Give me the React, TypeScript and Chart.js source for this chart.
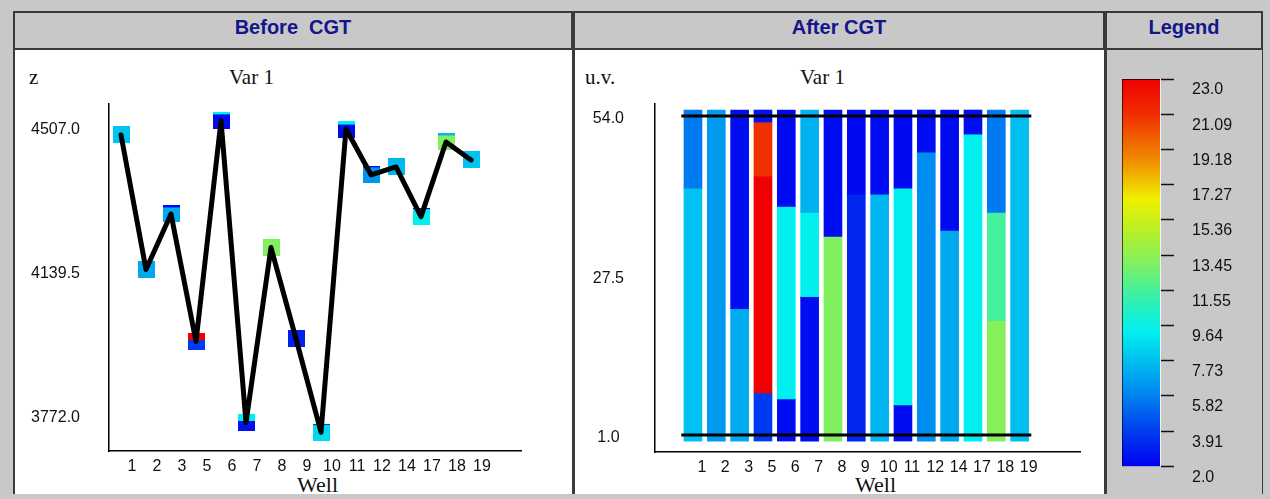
import React, { useEffect, useRef } from 'react';
import { Chart, registerables } from 'chart.js';

Chart.register(...registerables);

// ---- data ----
const wells = ['1', '2', '3', '5', '6', '7', '8', '9', '10', '11', '12', '14', '17', '18', '19'];

// Before CGT: depth (z) of the Var 1 sample in each well
const beforeZ = [4489, 4145, 4287, 3961, 4525, 3754, 4201, 3968, 3729, 4504, 4387, 4407, 4280, 4471, 4425];
// Var 1 of each sample, and of the thin layer capping it (null = no cap)
const beforeVar = [7.9, 7.0, 7.1, 3.8, 2.3, 2.5, 13.0, 3.0, 8.6, 2.3, 6.4, 7.5, 9.3, 13.0, 7.8];
const beforeCapVar = [null, null, 2.3, 23.0, 9.3, 9.3, null, null, 2.3, 9.3, 2.3, null, 2.3, 7.5, null];
const zTicks = [3772.0, 4139.5, 4507.0];

// After CGT: layer boundaries per well in u.v. (top to bottom) and Var 1 of each layer
const afterBounds = [
  [55, 42, 0],
  [55, 0],
  [55, 22, 0],
  [55, 53, 44, 8, 0],
  [55, 39, 7, 0],
  [55, 38, 24, 0],
  [55, 34, 0],
  [55, 41, 0],
  [55, 41, 0],
  [55, 42, 6, 0],
  [55, 48, 0],
  [55, 35, 0],
  [55, 51, 0],
  [55, 38, 20, 0],
  [55, 0],
];
const afterVar = [
  [5.6, 7.8],
  [6.6],
  [2.4, 7.1],
  [2.6, 21.0, 23.0, 3.8],
  [2.3, 9.3, 2.4],
  [7.3, 9.3, 2.4],
  [2.4, 13.0],
  [2.3, 3.2],
  [2.4, 7.4],
  [2.3, 9.3, 2.4],
  [2.4, 6.2],
  [2.3, 7.0],
  [2.4, 9.3],
  [5.6, 11.5, 13.2],
  [7.7],
];
const uvLevels = [54, 1];
const uvTicks = [1.0, 27.5, 54.0];

// Legend colour scale
const varMin = 2.0;
const varMax = 23.0;
const legendValues = [23.0, 21.09, 19.18, 17.27, 15.36, 13.45, 11.55, 9.64, 7.73, 5.82, 3.91, 2.0];
const legendLabels = ['23.0', '21.09', '19.18', '17.27', '15.36', '13.45', '11.55', '9.64', '7.73', '5.82', '3.91', '2.0'];

// ---- styling ----
const GRAY = '#c8c8c8';
const FRAME = '#3a3a3a';
const NAVY = '#15158a';
const SANS = "'Liberation Sans', Arial, sans-serif";
const SERIF = "'Liberation Serif', 'Times New Roman', serif";
const tickFont = { family: SANS, size: 16 };
const markerCapPx = [0, 0, 2, 7, 2, 7, 0, 0, 1, 4, 1, 0, 1, 2, 0];

const colorStops: [number, number[]][] = [
  [2.0, [0, 0, 240]],
  [4.0, [0, 64, 240]],
  [6.0, [0, 136, 240]],
  [8.0, [0, 200, 240]],
  [9.3, [0, 240, 240]],
  [11.0, [48, 240, 176]],
  [13.0, [128, 240, 96]],
  [15.0, [192, 240, 32]],
  [16.5, [240, 240, 0]],
  [18.5, [240, 144, 0]],
  [21.0, [240, 48, 0]],
  [23.0, [240, 0, 0]],
];

function varColor(v: number): string {
  if (v <= colorStops[0][0]) return `rgb(${colorStops[0][1].join(',')})`;
  for (let i = 1; i < colorStops.length; i++) {
    const [v1, c1] = colorStops[i];
    const [v0, c0] = colorStops[i - 1];
    if (v <= v1) {
      const t = (v - v0) / (v1 - v0);
      const c = c0.map((a, k) => Math.round(a + (c1[k] - a) * t));
      return `rgb(${c.join(',')})`;
    }
  }
  return `rgb(${colorStops[colorStops.length - 1][1].join(',')})`;
}

function markerImage(body: string, cap: string | null, capPx: number) {
  const c = document.createElement('canvas');
  c.width = 17;
  c.height = 17;
  const g = c.getContext('2d')!;
  g.fillStyle = body;
  g.fillRect(0, 0, 17, 17);
  if (cap && capPx > 0) {
    g.fillStyle = cap;
    g.fillRect(0, 0, 17, capPx);
  }
  return c;
}

const baseOpts = {
  responsive: false,
  animation: false,
  events: [],
  plugins: { legend: { display: false }, tooltip: { enabled: false } },
};

export default function App() {
  const beforeRef = useRef<HTMLCanvasElement>(null);
  const afterRef = useRef<HTMLCanvasElement>(null);
  const legendRef = useRef<HTMLCanvasElement>(null);

  useEffect(() => {
    const charts: Chart[] = [];

    // Before CGT: depth profile across wells with Var 1 coloured samples
    const pts = beforeZ.map((z, i) => ({ x: i, y: z }));
    const markers = beforeVar.map((v, i) =>
      markerImage(varColor(v), beforeCapVar[i] == null ? null : varColor(beforeCapVar[i] as number), markerCapPx[i])
    );
    charts.push(
      new Chart(beforeRef.current!, {
        type: 'line',
        data: {
          datasets: [
            {
              data: pts,
              borderColor: '#000',
              borderWidth: 5,
              borderJoinStyle: 'round',
              borderCapStyle: 'round',
              pointRadius: 0,
              tension: 0,
              order: 1,
            },
            {
              data: pts,
              showLine: false,
              pointStyle: markers,
              pointRadius: 9,
              order: 2,
            },
          ],
        },
        options: {
          ...baseOpts,
          layout: { padding: { left: 0, top: 55, right: 50, bottom: 0 } },
          scales: {
            x: {
              type: 'linear',
              min: -0.48,
              max: 16.0,
              grid: { display: false, drawTicks: false },
              border: { display: true, color: '#000', width: 1.5 },
              afterBuildTicks: (s: any) => {
                s.ticks = wells.map((_, i) => ({ value: i }));
              },
              afterFit: (s: any) => {
                s.height = 43;
              },
              ticks: {
                autoSkip: false,
                maxRotation: 0,
                padding: 6,
                labelOffset: 11,
                color: '#111',
                font: tickFont,
                callback: (_v: any, i: number) => wells[i],
              },
            },
            y: {
              type: 'linear',
              min: 3681,
              max: 4568,
              grid: { display: false, drawTicks: false },
              border: { display: true, color: '#000', width: 1.5 },
              afterBuildTicks: (s: any) => {
                s.ticks = zTicks.map((v) => ({ value: v }));
              },
              afterFit: (s: any) => {
                s.width = 96;
              },
              ticks: {
                crossAlign: 'center',
                padding: 29,
                labelOffset: 2,
                color: '#111',
                font: tickFont,
                callback: (v: any) => Number(v).toFixed(1),
              },
            },
          },
        },
      } as any)
    );

    // After CGT: layered Var 1 columns per well
    const maxLayers = Math.max(...afterVar.map((l) => l.length));
    const layerSets: any[] = [];
    for (let k = 0; k < maxLayers; k++) {
      const data: any[] = [];
      const colors: string[] = [];
      afterVar.forEach((layers, i) => {
        if (k < layers.length) {
          data.push({ x: i, y: [afterBounds[i][k + 1], afterBounds[i][k]] });
          colors.push(varColor(layers[k]));
        }
      });
      layerSets.push({
        type: 'bar',
        data,
        backgroundColor: colors,
        borderWidth: 0,
        barThickness: 18,
        order: 2,
      });
    }
    const levelSets = uvLevels.map((lv) => ({
      type: 'line',
      data: [
        { x: -0.5, y: lv },
        { x: wells.length - 0.5, y: lv },
      ],
      borderColor: '#000',
      borderWidth: 3,
      pointRadius: 0,
      order: 1,
    }));
    charts.push(
      new Chart(afterRef.current!, {
        type: 'bar',
        data: { datasets: [...layerSets, ...levelSets] },
        options: {
          ...baseOpts,
          layout: { padding: { left: 0, top: 55, right: 24, bottom: 0 } },
          scales: {
            x: {
              type: 'linear',
              stacked: true,
              min: -1.02,
              max: 15.98,
              grid: { display: false, drawTicks: false },
              border: { display: true, color: '#000', width: 1.5 },
              afterBuildTicks: (s: any) => {
                s.ticks = wells.map((_, i) => ({ value: i }));
              },
              afterFit: (s: any) => {
                s.height = 42;
              },
              ticks: {
                autoSkip: false,
                maxRotation: 0,
                padding: 6,
                labelOffset: 9,
                color: '#111',
                font: tickFont,
                callback: (_v: any, i: number) => wells[i],
              },
            },
            y: {
              type: 'linear',
              stacked: false,
              min: -1.82,
              max: 56.0,
              grid: { display: false, drawTicks: false },
              border: { display: true, color: '#000', width: 1.5 },
              afterBuildTicks: (s: any) => {
                s.ticks = uvTicks.map((v) => ({ value: v }));
              },
              afterFit: (s: any) => {
                s.width = 82;
              },
              ticks: {
                crossAlign: 'center',
                padding: 31,
                labelOffset: 3,
                color: '#111',
                font: tickFont,
                callback: (v: any) => Number(v).toFixed(1),
              },
            },
          },
        },
      } as any)
    );

    // Legend colour bar
    const gradientFill = (ctx: any) => {
      const chart = ctx.chart;
      const y = chart.scales.y;
      if (!chart.chartArea || !y) return varColor(varMin);
      const g = chart.ctx.createLinearGradient(0, y.getPixelForValue(varMin), 0, y.getPixelForValue(varMax));
      colorStops.forEach(([v]) => g.addColorStop((v - varMin) / (varMax - varMin), varColor(v)));
      return g;
    };
    charts.push(
      new Chart(legendRef.current!, {
        type: 'bar',
        data: {
          labels: [''],
          datasets: [
            {
              data: [[varMin, varMax]],
              backgroundColor: gradientFill,
              borderColor: '#000',
              borderWidth: { left: 1, top: 1, right: 0, bottom: 0 },
              borderSkipped: false,
              barPercentage: 1,
              categoryPercentage: 1,
            },
          ],
        },
        options: {
          ...baseOpts,
          layout: { padding: { left: 17, top: 30, right: 0, bottom: 22 } },
          scales: {
            x: { display: false },
            y: {
              position: 'right',
              min: varMin,
              max: varMax,
              grid: {
                display: true,
                drawOnChartArea: false,
                drawTicks: true,
                tickLength: 14,
                tickColor: '#111',
                tickWidth: 1.5,
              },
              border: { display: true, color: '#f4f4f4', width: 1 },
              afterBuildTicks: (s: any) => {
                s.ticks = legendValues.map((v) => ({ value: v }));
              },
              afterFit: (s: any) => {
                s.width = 103;
              },
              ticks: {
                padding: 18,
                labelOffset: 11,
                color: '#111',
                font: tickFont,
                callback: (_v: any, i: number) => legendLabels[i],
              },
            },
          },
        },
      } as any)
    );

    return () => charts.forEach((c) => c.destroy());
  }, []);

  const header = (left: number, width: number, text: string) => (
    <div
      style={{
        position: 'absolute',
        left,
        top: 11,
        width,
        height: 39,
        boxSizing: 'border-box',
        border: `2px solid ${FRAME}`,
        background: GRAY,
      }}
    >
      <div
        style={{
          position: 'absolute',
          left: 0,
          right: 0,
          top: 4,
          textAlign: 'center',
          font: `bold 20px ${SANS}`,
          lineHeight: '20px',
          color: NAVY,
          whiteSpace: 'pre',
        }}
      >
        {text}
      </div>
    </div>
  );

  const panel = (left: number, width: number, bg: string) => (
    <div
      style={{
        position: 'absolute',
        left,
        top: 50,
        width,
        height: 444,
        boxSizing: 'border-box',
        borderLeft: `2px solid ${FRAME}`,
        borderRight: `1px solid ${FRAME}`,
        background: bg,
      }}
    />
  );

  const label = (left: number, top: number, text: string, size = 21) => (
    <div
      style={{
        position: 'absolute',
        left,
        top,
        font: `${size}px ${SERIF}`,
        lineHeight: `${size}px`,
        color: '#111',
        whiteSpace: 'pre',
      }}
    >
      {text}
    </div>
  );

  return (
    <div
      style={{
        position: 'absolute',
        left: 0,
        top: 0,
        width: 1270,
        height: 499,
        overflow: 'hidden',
        background: GRAY,
      }}
    >
      {header(13, 560, 'Before  CGT')}
      {header(573, 532, 'After CGT')}
      {header(1105, 158, 'Legend')}
      {panel(13, 560, '#ffffff')}
      {panel(573, 532, '#ffffff')}
      {panel(1105, 158, GRAY)}

      {label(29, 67, 'z')}
      {label(229, 67, 'Var 1')}
      {label(585, 67, 'u.v.')}
      {label(800, 67, 'Var 1')}
      {label(297, 474, 'Well', 22)}
      {label(855, 474, 'Well', 22)}

      <canvas ref={beforeRef} width={558} height={445} style={{ position: 'absolute', left: 13, top: 49 }} />
      <canvas ref={afterRef} width={531} height={445} style={{ position: 'absolute', left: 573, top: 49 }} />
      <canvas ref={legendRef} width={158} height={445} style={{ position: 'absolute', left: 1105, top: 49 }} />
    </div>
  );
}
